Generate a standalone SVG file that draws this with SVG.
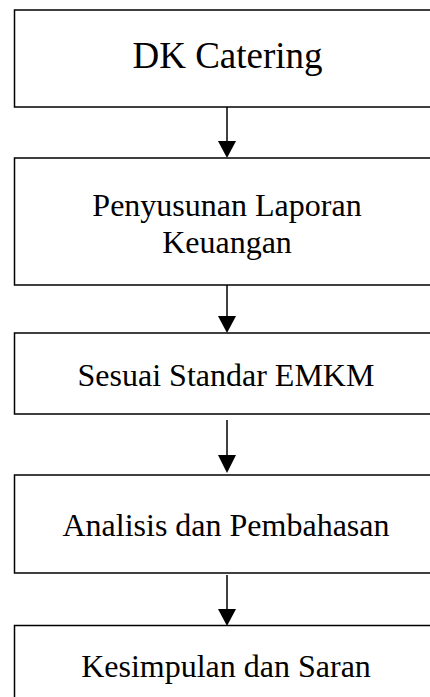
<svg xmlns="http://www.w3.org/2000/svg" width="430" height="697" viewBox="0 0 430 697">
<style>
.box{fill:#fff;stroke:#000;stroke-width:1.5}
.t{font-family:"Liberation Serif","Times New Roman",serif;font-size:32px;fill:#000;text-anchor:middle}
.big{font-size:37px}
.c{stroke:#000;stroke-width:1.5;fill:none}
.h{fill:#000}
</style>
<rect width="430" height="697" fill="#fff"/>
<g id="n1"><rect class="box" x="14.5" y="10" width="426" height="97"/><text class="t big" x="227.5" y="68">DK Catering</text></g>
<g id="n2"><rect class="box" x="14.5" y="158" width="426" height="127"/><text class="t" x="227" y="216">Penyusunan Laporan</text><text class="t" x="227" y="253">Keuangan</text></g>
<g id="n3"><rect class="box" x="14.5" y="333" width="426" height="81"/><text class="t" x="226" y="386">Sesuai Standar EMKM</text></g>
<g id="n4"><rect class="box" x="14.5" y="475" width="426" height="98"/><text class="t" x="226" y="536">Analisis dan Pembahasan</text></g>
<g id="n5"><rect class="box" x="14.5" y="625.5" width="426" height="90"/><text class="t" x="226" y="677">Kesimpulan dan Saran</text></g>
<g id="connectors">
<line class="c" x1="227" y1="107" x2="227" y2="142"/><polygon class="h" points="218,141 236,141 227,158"/>
<line class="c" x1="227" y1="285" x2="227" y2="317"/><polygon class="h" points="218,316 236,316 227,333"/>
<line class="c" x1="227" y1="420" x2="227" y2="456"/><polygon class="h" points="218,455 236,455 227,473"/>
<line class="c" x1="227" y1="575" x2="227" y2="610"/><polygon class="h" points="218,609 236,609 227,626"/>
</g>
</svg>
